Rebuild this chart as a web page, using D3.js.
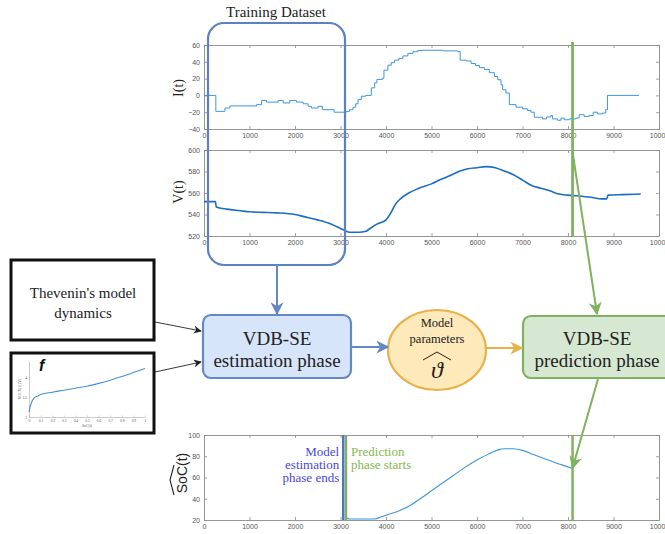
<!DOCTYPE html>
<html>
<head>
<meta charset="utf-8">
<script src="https://cdn.jsdelivr.net/npm/d3@7"></script>
<style>
  html, body { margin: 0; padding: 0; background: #fff; }
  svg { display: block; }
  .tick text { font-family: "Liberation Sans", Arial, sans-serif; fill: #555; }
</style>
</head>
<body>
<svg id="chart" width="665" height="534"></svg>
<script>
// ---- data ----
// battery current I(t) [A], piecewise constant (step starts)
const currentT = [0, 260, 460, 570, 1155, 1265, 1374, 1630, 1740, 1886, 2032, 2178, 2288, 2361, 2507, 2602, 2858, 3129, 3200, 3275, 3333, 3385, 3458, 3553, 3677, 3750, 3800, 3918, 3955, 4042, 4115, 4188, 4284, 4371, 4481, 4591, 4700, 4810, 5248, 5577, 5629, 5760, 5870, 5965, 6053, 6162, 6272, 6382, 6455, 6528, 6564, 6637, 6711, 6857, 7003, 7113, 7186, 7259, 7442, 7529, 7624, 7661, 7770, 7844, 7917, 8026, 8172, 8246, 8355, 8465, 8553, 8648, 8757, 8830, 8867, 9560];
const currentA = [0, -19, -15, -12.5, -11, -6, -8, -6, -9, -6, -8, -10, -13, -15, -13, -17, -20, -19, -17, -14, -10, -5, -1, 0, 9, 15, 19, 20.5, 30, 36, 39, 42, 44, 47, 50, 52, 53.4, 53.8, 53, 52, 42, 41, 38, 35.6, 33, 31, 27, 22.5, 18.6, 12.6, 6.7, 2.8, -11, -14, -16, -18, -20, -26, -28, -25.7, -24, -28, -29.6, -27, -29, -28, -27, -23, -25, -24, -20, -22, -21, -17, 0, 0];

// terminal voltage V(t)
const voltageT = [0, 250, 270, 500, 800, 1000, 1300, 1600, 2000, 2200, 2500, 2800, 3000, 3100, 3200, 3400, 3560, 3650, 3800, 4000, 4100, 4200, 4300, 4500, 4700, 5000, 5200, 5400, 5600, 5800, 6000, 6200, 6400, 6600, 6800, 7000, 7200, 7400, 7600, 7800, 8000, 8200, 8500, 8750, 8850, 8880, 9200, 9600];
const voltageV = [552, 552, 547, 545, 543.5, 542.5, 542, 541.5, 540, 538, 535, 531, 527, 525, 523.5, 523.5, 524.5, 527, 531, 535, 541, 549, 554, 560, 564, 568.5, 572.5, 576, 580, 582.5, 583.5, 584.5, 583.5, 580.5, 577, 572, 567, 564.5, 562, 559, 558, 557.5, 556, 554.5, 554.5, 558, 558.5, 559];

// estimated state of charge during the prediction phase [%]
const socT = [3120, 3200, 3750, 3900, 4000, 4250, 4500, 4750, 5000, 5250, 5500, 5750, 6000, 6250, 6500, 6600, 6800, 7000, 7250, 7500, 7750, 8000, 8100];
const socV = [22, 21, 21, 23, 24.5, 28, 33, 40, 47.5, 55, 62.5, 70, 76.5, 82, 86.5, 87, 87, 85.5, 81.5, 77.5, 73.5, 70, 68.5];

// open-circuit voltage curve f(SoC)
const ocvSoc = [0, 0.01, 0.02, 0.035, 0.05, 0.08, 0.1, 0.2, 0.3, 0.4, 0.5, 0.6, 0.7, 0.8, 0.9, 1];
const ocvV = [3.12, 3.25, 3.35, 3.44, 3.49, 3.53, 3.56, 3.62, 3.67, 3.72, 3.77, 3.84, 3.92, 4.01, 4.11, 4.21];

// axis ticks
const timeTicks = [0, 1000, 2000, 3000, 4000, 5000, 6000, 7000, 8000, 9000, 10000];
const currentTicks = [-40, -20, 0, 20, 40, 60];
const voltageTicks = [520, 540, 560, 580, 600];
const socTicks = [20, 40, 60, 80, 100];
const ocvSocTicks = [0, 0.1, 0.2, 0.3, 0.4, 0.5, 0.6, 0.7, 0.8, 0.9, 1];
const ocvVTicks = [3, 3.5, 4];

// phase markers on the time axis
const estimationEnd = 3060;
const predictionStart = 3120;
const predictionEnd = 8100;

// ---- drawing ----
const SERIF = "'Liberation Serif', 'Times New Roman', 'DejaVu Serif', serif";
const SANS = "'Liberation Sans', Arial, sans-serif";
const svg = d3.select("#chart");
const defs = svg.append("defs");

function serifText(sel) { return sel.style("font-family", SERIF); }

function marker(id, color, w, h) {
  defs.append("marker")
    .attr("id", id).attr("viewBox", "0 0 10 10")
    .attr("refX", 9).attr("refY", 5)
    .attr("markerUnits", "userSpaceOnUse")
    .attr("markerWidth", w).attr("markerHeight", h)
    .attr("orient", "auto")
    .append("path").attr("d", "M0,0 L10,5 L0,10 L3,5 Z").attr("fill", color);
}
const BLUE = "#6288c6", GREEN = "#7fb25f", ORANGE = "#e8b24a";
marker("arBlue", BLUE, 13, 13);
marker("arGreen", GREEN, 13, 13);
marker("arOrange", ORANGE, 13, 13);
marker("arBlack", "#222", 8, 8);

const x = d3.scaleLinear().domain([0, 10000]).range([204, 659]);

// MATLAB-style boxed axes with inward ticks on all four sides
function boxedAxes(yScale, yTicks) {
  const g = svg.append("g");
  const [y0, y1] = yScale.range();
  const axStyle = sel => {
    sel.selectAll("path.domain").attr("stroke", "#8a8a8a").attr("stroke-width", 0.9);
    sel.selectAll(".tick line").attr("stroke", "#8a8a8a").attr("stroke-width", 0.8);
    sel.selectAll("text").attr("font-size", 7);
  };
  g.append("g").attr("transform", `translate(0,${y0})`)
    .call(d3.axisBottom(x).tickValues(timeTicks).tickFormat(d3.format("d")).tickSizeInner(-3).tickSizeOuter(0).tickPadding(4))
    .call(axStyle);
  g.append("g").attr("transform", `translate(0,${y1})`)
    .call(d3.axisTop(x).tickValues(timeTicks).tickFormat("").tickSizeInner(-3).tickSizeOuter(0))
    .call(axStyle);
  g.append("g").attr("transform", `translate(${x.range()[0]},0)`)
    .call(d3.axisLeft(yScale).tickValues(yTicks).tickFormat(d3.format("d")).tickSizeInner(-3).tickSizeOuter(0).tickPadding(4))
    .call(axStyle);
  g.append("g").attr("transform", `translate(${x.range()[1]},0)`)
    .call(d3.axisRight(yScale).tickValues(yTicks).tickFormat("").tickSizeInner(-3).tickSizeOuter(0))
    .call(axStyle);
  g.selectAll(".domain").attr("fill", "none");
  return g;
}

// I(t)
const yI = d3.scaleLinear().domain([-40, 60]).range([129, 45]);
boxedAxes(yI, currentTicks);
svg.append("path")
  .datum(currentT.map((t, i) => [t, currentA[i]]))
  .attr("fill", "none").attr("stroke", "#3d95df").attr("stroke-width", 1)
  .attr("d", d3.line().x(d => x(d[0])).y(d => yI(d[1])).curve(d3.curveStepAfter));
svg.append("text").call(serifText)
  .attr("transform", "translate(183,88) rotate(-90)")
  .attr("text-anchor", "middle").attr("font-size", 14).attr("fill", "#222").text("I(t)");

// V(t)
const yV = d3.scaleLinear().domain([520, 600]).range([236, 150]);
boxedAxes(yV, voltageTicks);
svg.append("path")
  .datum(voltageT.map((t, i) => [t, voltageV[i]]))
  .attr("fill", "none").attr("stroke", "#1b6cc4").attr("stroke-width", 1.6)
  .attr("d", d3.line().x(d => x(d[0])).y(d => yV(d[1])).curve(d3.curveMonotoneX));
svg.append("text").call(serifText)
  .attr("transform", "translate(183,192) rotate(-90)")
  .attr("text-anchor", "middle").attr("font-size", 14).attr("fill", "#222").text("V(t)");

// estimated SoC(t)
const yS = d3.scaleLinear().domain([20, 100]).range([520, 435]);
boxedAxes(yS, socTicks);
svg.append("path")
  .datum(socT.map((t, i) => [t, socV[i]]))
  .attr("fill", "none").attr("stroke", "#3d95df").attr("stroke-width", 1.1)
  .attr("d", d3.line().x(d => x(d[0])).y(d => yS(d[1])).curve(d3.curveMonotoneX));
const socLabel = svg.append("g").attr("transform", "translate(187,473) rotate(-90)");
socLabel.append("text").attr("text-anchor", "middle")
  .style("font-family", SANS)
  .attr("font-size", 14).attr("fill", "#222").text("SoC(t)");
socLabel.append("path").attr("d", "M-22,-13 L-7,-17 L8,-13")
  .attr("fill", "none").attr("stroke", "#222").attr("stroke-width", 1.1);

// phase markers in the SoC panel
svg.append("line").attr("x1", x(estimationEnd)).attr("x2", x(estimationEnd))
  .attr("y1", yS.range()[1]).attr("y2", yS.range()[0])
  .attr("stroke", "#4f74c8").attr("stroke-width", 2.5);
svg.append("line").attr("x1", x(predictionStart)).attr("x2", x(predictionStart))
  .attr("y1", yS.range()[1]).attr("y2", yS.range()[0])
  .attr("stroke", GREEN).attr("stroke-width", 2.5);
svg.append("line").attr("x1", x(predictionEnd)).attr("x2", x(predictionEnd))
  .attr("y1", yS.range()[1]).attr("y2", yS.range()[0])
  .attr("stroke", GREEN).attr("stroke-width", 2.5);

const estText = svg.append("text").call(serifText)
  .attr("text-anchor", "end").attr("font-size", 13).attr("fill", "#4848e0");
["Model", "estimation", "phase ends"].forEach((s, i) =>
  estText.append("tspan").attr("x", x(estimationEnd) - 4).attr("y", 456 + i * 13).text(s));
const predText = svg.append("text").call(serifText)
  .attr("text-anchor", "start").attr("font-size", 13).attr("fill", "#86b84e");
["Prediction", "phase starts"].forEach((s, i) =>
  predText.append("tspan").attr("x", x(predictionStart) + 5).attr("y", 456 + i * 13).text(s));

// prediction horizon line through I(t) and V(t)
svg.append("line").attr("x1", x(predictionEnd)).attr("x2", x(predictionEnd))
  .attr("y1", 42).attr("y2", 236)
  .attr("stroke", GREEN).attr("stroke-width", 2.8);

// training dataset window
svg.append("rect").attr("x", 208).attr("y", 23).attr("width", 137).attr("height", 242)
  .attr("rx", 16).attr("ry", 16)
  .attr("fill", "none").attr("stroke", "#5b80c4").attr("stroke-width", 2.2);
svg.append("text").call(serifText).attr("x", 276).attr("y", 17)
  .attr("text-anchor", "middle").attr("font-size", 15).attr("fill", "#222").text("Training Dataset");

// flow blocks
svg.append("rect").attr("x", 203).attr("y", 315).attr("width", 148).attr("height", 63)
  .attr("rx", 8).attr("fill", "#d7e5fa").attr("stroke", BLUE).attr("stroke-width", 2.2);
const estBlock = svg.append("text").call(serifText).attr("text-anchor", "middle")
  .attr("font-size", 19).attr("fill", "#222");
estBlock.append("tspan").attr("x", 277).attr("y", 345).text("VDB-SE");
estBlock.append("tspan").attr("x", 277).attr("y", 367).text("estimation phase");

svg.append("ellipse").attr("cx", 437).attr("cy", 350).attr("rx", 49).attr("ry", 40)
  .attr("fill", "#fde9b9").attr("stroke", ORANGE).attr("stroke-width", 2.2);
const param = svg.append("text").call(serifText).attr("text-anchor", "middle")
  .attr("font-size", 12.5).attr("fill", "#222");
param.append("tspan").attr("x", 437).attr("y", 327).text("Model");
param.append("tspan").attr("x", 437).attr("y", 343).text("parameters");
svg.append("text").call(serifText).attr("x", 437).attr("y", 378)
  .attr("text-anchor", "middle").attr("font-size", 24).attr("font-style", "italic")
  .attr("fill", "#222").text("ϑ");
svg.append("path").attr("d", "M423,360 L437,352 L451,360")
  .attr("fill", "none").attr("stroke", "#222").attr("stroke-width", 1);

svg.append("rect").attr("x", 523).attr("y", 316).attr("width", 160).attr("height", 62)
  .attr("rx", 8).attr("fill", "#d6e8d2").attr("stroke", GREEN).attr("stroke-width", 2.2);
const predBlock = svg.append("text").call(serifText).attr("text-anchor", "middle")
  .attr("font-size", 19).attr("fill", "#222");
predBlock.append("tspan").attr("x", 597).attr("y", 345).text("VDB-SE");
predBlock.append("tspan").attr("x", 597).attr("y", 367).text("prediction phase");

// connectors
svg.append("line").attr("x1", 277).attr("y1", 265).attr("x2", 277).attr("y2", 314)
  .attr("stroke", BLUE).attr("stroke-width", 2).attr("marker-end", "url(#arBlue)");
svg.append("line").attr("x1", 352).attr("y1", 347).attr("x2", 388).attr("y2", 347)
  .attr("stroke", BLUE).attr("stroke-width", 2).attr("marker-end", "url(#arBlue)");
svg.append("line").attr("x1", 487).attr("y1", 348).attr("x2", 522).attr("y2", 348)
  .attr("stroke", ORANGE).attr("stroke-width", 2).attr("marker-end", "url(#arOrange)");
svg.append("line").attr("x1", x(predictionEnd)).attr("y1", 152).attr("x2", 597).attr("y2", 314)
  .attr("stroke", GREEN).attr("stroke-width", 2).attr("marker-end", "url(#arGreen)");
svg.append("line").attr("x1", 598).attr("y1", 379).attr("x2", x(predictionEnd)).attr("y2", 468)
  .attr("stroke", GREEN).attr("stroke-width", 2).attr("marker-end", "url(#arGreen)");
svg.append("line").attr("x1", 155).attr("y1", 322).attr("x2", 201).attr("y2", 331)
  .attr("stroke", "#222").attr("stroke-width", 0.9).attr("marker-end", "url(#arBlack)");
svg.append("line").attr("x1", 155).attr("y1", 372).attr("x2", 201).attr("y2", 362)
  .attr("stroke", "#222").attr("stroke-width", 0.9).attr("marker-end", "url(#arBlack)");

// Thevenin model box
svg.append("rect").attr("x", 11).attr("y", 260).attr("width", 143).attr("height", 80)
  .attr("fill", "#fff").attr("stroke", "#111").attr("stroke-width", 3);
const thev = svg.append("text").call(serifText).attr("text-anchor", "middle")
  .attr("font-size", 15).attr("fill", "#222");
thev.append("tspan").attr("x", 83).attr("y", 298).text("Thevenin's model");
thev.append("tspan").attr("x", 83).attr("y", 318).text("dynamics");

// OCV curve box
svg.append("rect").attr("x", 11).attr("y", 353).attr("width", 143).attr("height", 80)
  .attr("fill", "#fff").attr("stroke", "#111").attr("stroke-width", 3);
const xo = d3.scaleLinear().domain([0, 1]).range([29, 145]);
const yo = d3.scaleLinear().domain([3, 4.4]).range([417, 361]);
const small = sel => {
  sel.selectAll("path.domain").attr("stroke", "#999").attr("stroke-width", 0.5).attr("fill", "none");
  sel.selectAll(".tick line").attr("stroke", "#999").attr("stroke-width", 0.4);
  sel.selectAll("text").attr("font-size", 3.6).attr("fill", "#555").style("font-family", SERIF);
};
svg.append("g").attr("transform", `translate(0,${yo.range()[0]})`)
  .call(d3.axisBottom(xo).tickValues(ocvSocTicks).tickFormat(d => d === 0 || d === 1 ? d3.format("d")(d) : d3.format(".1f")(d))
    .tickSizeInner(-1.5).tickSizeOuter(0).tickPadding(2))
  .call(small);
svg.append("g").attr("transform", `translate(${xo.range()[0]},0)`)
  .call(d3.axisLeft(yo).tickValues(ocvVTicks).tickFormat(d3.format("~g"))
    .tickSizeInner(-1.5).tickSizeOuter(0).tickPadding(2))
  .call(small);
svg.append("text").call(serifText).attr("x", 87).attr("y", 427).attr("text-anchor", "middle")
  .attr("font-size", 3.8).attr("fill", "#555").text("SoC(t)");
svg.append("text").call(serifText).attr("transform", "translate(21,389) rotate(-90)").attr("text-anchor", "middle")
  .attr("font-size", 3.8).attr("fill", "#555").text("VOCV(t) [V]");
svg.append("path")
  .datum(ocvSoc.map((s, i) => [s, ocvV[i]]))
  .attr("fill", "none").attr("stroke", "#4a90d9").attr("stroke-width", 1.1)
  .attr("d", d3.line().x(d => xo(d[0])).y(d => yo(d[1])).curve(d3.curveMonotoneX));
svg.append("text").attr("x", 39).attr("y", 371)
  .style("font-family", SANS).attr("font-style", "italic")
  .attr("font-weight", "bold").attr("font-size", 16).attr("fill", "#111").text("f");
</script>
</body>
</html>
